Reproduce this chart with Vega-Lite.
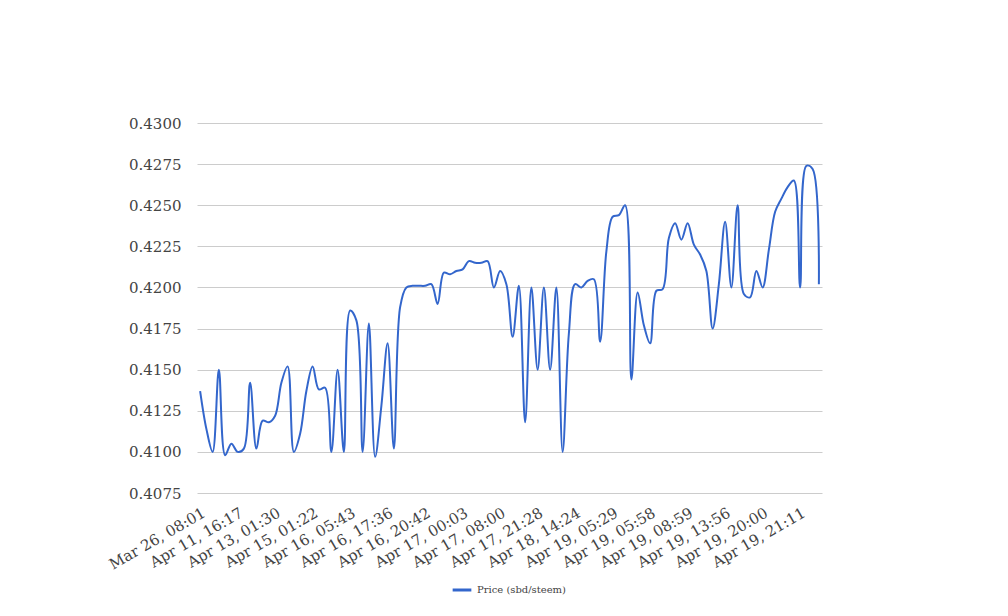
{
  "$schema": "https://vega.github.io/schema/vega-lite/v6.json",
  "width": 625,
  "height": 370,
  "autosize": {"type": "none"},
  "padding": {"left": 197, "top": 123, "right": 186, "bottom": 123},
  "background": "white",
  "config": {"view": {"stroke": null}, "font": "DejaVu Serif"},
  "data": {"values": [
    {"t": "Mar 26, 08:01", "p": 0.4137}, {"t": "Mar 29, 10:12", "p": 0.4114}, {"t": "Apr 1, 19:45", "p": 0.4100}, {"t": "Apr 4, 06:30", "p": 0.4150}, {"t": "Apr 6, 22:18", "p": 0.4098},
    {"t": "Apr 9, 03:51", "p": 0.4105}, {"t": "Apr 11, 16:17", "p": 0.4100}, {"t": "Apr 11, 21:40", "p": 0.4102}, {"t": "Apr 12, 02:55", "p": 0.4142}, {"t": "Apr 12, 09:13", "p": 0.4102},
    {"t": "Apr 12, 14:37", "p": 0.4119}, {"t": "Apr 12, 20:02", "p": 0.4118}, {"t": "Apr 13, 01:30", "p": 0.4122}, {"t": "Apr 13, 09:48", "p": 0.4142}, {"t": "Apr 13, 18:20", "p": 0.4152},
    {"t": "Apr 14, 03:05", "p": 0.4100}, {"t": "Apr 14, 11:42", "p": 0.4111}, {"t": "Apr 14, 18:30", "p": 0.4137}, {"t": "Apr 15, 01:22", "p": 0.4152}, {"t": "Apr 15, 06:10", "p": 0.4138},
    {"t": "Apr 15, 11:35", "p": 0.4139}, {"t": "Apr 15, 16:48", "p": 0.4100}, {"t": "Apr 15, 21:03", "p": 0.4150}, {"t": "Apr 16, 01:27", "p": 0.4100}, {"t": "Apr 16, 05:43", "p": 0.4186},
    {"t": "Apr 16, 07:50", "p": 0.4180}, {"t": "Apr 16, 10:15", "p": 0.4100}, {"t": "Apr 16, 12:38", "p": 0.4178}, {"t": "Apr 16, 14:02", "p": 0.4097}, {"t": "Apr 16, 15:49", "p": 0.4128},
    {"t": "Apr 16, 17:36", "p": 0.4166}, {"t": "Apr 16, 18:05", "p": 0.4102}, {"t": "Apr 16, 18:40", "p": 0.4188}, {"t": "Apr 16, 19:11", "p": 0.4200}, {"t": "Apr 16, 19:37", "p": 0.4201},
    {"t": "Apr 16, 20:09", "p": 0.4201}, {"t": "Apr 16, 20:42", "p": 0.4201}, {"t": "Apr 16, 21:20", "p": 0.4202}, {"t": "Apr 16, 21:58", "p": 0.4190}, {"t": "Apr 16, 22:31", "p": 0.4209},
    {"t": "Apr 16, 23:05", "p": 0.4208}, {"t": "Apr 16, 23:34", "p": 0.4210}, {"t": "Apr 17, 00:03", "p": 0.4211}, {"t": "Apr 17, 01:30", "p": 0.4216}, {"t": "Apr 17, 02:52", "p": 0.4215},
    {"t": "Apr 17, 04:11", "p": 0.4215}, {"t": "Apr 17, 05:27", "p": 0.4216}, {"t": "Apr 17, 06:44", "p": 0.4200}, {"t": "Apr 17, 08:00", "p": 0.4210}, {"t": "Apr 17, 10:15", "p": 0.4202},
    {"t": "Apr 17, 12:33", "p": 0.4170}, {"t": "Apr 17, 14:50", "p": 0.4201}, {"t": "Apr 17, 17:02", "p": 0.4118}, {"t": "Apr 17, 19:16", "p": 0.4200}, {"t": "Apr 17, 21:28", "p": 0.4150},
    {"t": "Apr 18, 00:10", "p": 0.4200}, {"t": "Apr 18, 02:55", "p": 0.4150}, {"t": "Apr 18, 05:40", "p": 0.4200}, {"t": "Apr 18, 08:21", "p": 0.4100}, {"t": "Apr 18, 11:20", "p": 0.4172},
    {"t": "Apr 18, 14:24", "p": 0.4202}, {"t": "Apr 18, 17:03", "p": 0.4200}, {"t": "Apr 18, 19:40", "p": 0.4204}, {"t": "Apr 18, 22:18", "p": 0.4205}, {"t": "Apr 19, 00:52", "p": 0.4167},
    {"t": "Apr 19, 03:11", "p": 0.4222}, {"t": "Apr 19, 05:29", "p": 0.4243}, {"t": "Apr 19, 05:34", "p": 0.4244}, {"t": "Apr 19, 05:39", "p": 0.4250}, {"t": "Apr 19, 05:44", "p": 0.4144},
    {"t": "Apr 19, 05:48", "p": 0.4197}, {"t": "Apr 19, 05:53", "p": 0.4177}, {"t": "Apr 19, 05:58", "p": 0.4166}, {"t": "Apr 19, 06:28", "p": 0.4198}, {"t": "Apr 19, 06:59", "p": 0.4199},
    {"t": "Apr 19, 07:29", "p": 0.4230}, {"t": "Apr 19, 07:58", "p": 0.4239}, {"t": "Apr 19, 08:29", "p": 0.4229}, {"t": "Apr 19, 08:59", "p": 0.4239}, {"t": "Apr 19, 09:48", "p": 0.4226},
    {"t": "Apr 19, 10:38", "p": 0.4220}, {"t": "Apr 19, 11:27", "p": 0.4210}, {"t": "Apr 19, 12:17", "p": 0.4175}, {"t": "Apr 19, 13:06", "p": 0.4202}, {"t": "Apr 19, 13:56", "p": 0.4240},
    {"t": "Apr 19, 14:57", "p": 0.4200}, {"t": "Apr 19, 15:58", "p": 0.4250}, {"t": "Apr 19, 16:59", "p": 0.4196}, {"t": "Apr 19, 17:59", "p": 0.4194}, {"t": "Apr 19, 19:00", "p": 0.4210},
    {"t": "Apr 19, 20:00", "p": 0.4200}, {"t": "Apr 19, 20:12", "p": 0.4223}, {"t": "Apr 19, 20:24", "p": 0.4246}, {"t": "Apr 19, 20:35", "p": 0.4254}, {"t": "Apr 19, 20:47", "p": 0.4261},
    {"t": "Apr 19, 20:59", "p": 0.4265}, {"t": "Apr 19, 21:11", "p": 0.4200}, {"t": "Apr 19, 21:23", "p": 0.4274}, {"t": "Apr 19, 21:35", "p": 0.4272}, {"t": "Apr 19, 21:47", "p": 0.4202}
  ]},
  "mark": {"type": "line", "interpolate": "catmull-rom", "strokeWidth": 2},
  "encoding": {
    "x": {
      "field": "t",
      "type": "ordinal",
      "sort": null,
      "scale": {"type": "point", "padding": 0.5},
      "axis": {
        "values": ["Mar 26, 08:01", "Apr 11, 16:17", "Apr 13, 01:30", "Apr 15, 01:22", "Apr 16, 05:43", "Apr 16, 17:36", "Apr 16, 20:42", "Apr 17, 00:03", "Apr 17, 08:00", "Apr 17, 21:28", "Apr 18, 14:24", "Apr 19, 05:29", "Apr 19, 05:58", "Apr 19, 08:59", "Apr 19, 13:56", "Apr 19, 20:00", "Apr 19, 21:11"],
        "labelAngle": -30,
        "labelAlign": "right",
        "labelBaseline": "top",
        "labelPadding": 12,
        "labelFontSize": 15,
        "labelColor": "#444444",
        "labelOverlap": false,
        "labelLimit": 300,
        "ticks": false,
        "domain": false,
        "grid": false,
        "title": null
      }
    },
    "y": {
      "field": "p",
      "type": "quantitative",
      "scale": {"domain": [0.4075, 0.43], "nice": false, "zero": false},
      "axis": {
        "values": [0.4075, 0.41, 0.4125, 0.415, 0.4175, 0.42, 0.4225, 0.425, 0.4275, 0.43],
        "format": ".4f",
        "grid": true,
        "gridColor": "#cccccc",
        "domain": false,
        "ticks": false,
        "labelPadding": 16,
        "labelFontSize": 15,
        "labelColor": "#444444",
        "title": null
      }
    },
    "color": {
      "datum": "Price (sbd/steem)",
      "scale": {"range": ["#3366cc"]},
      "legend": {
        "orient": "none",
        "legendX": 254,
        "legendY": 456,
        "title": null,
        "labelFontSize": 10,
        "labelColor": "#444444",
        "symbolType": "stroke",
        "symbolStrokeWidth": 3,
        "symbolSize": 350
      }
    }
  }
}
